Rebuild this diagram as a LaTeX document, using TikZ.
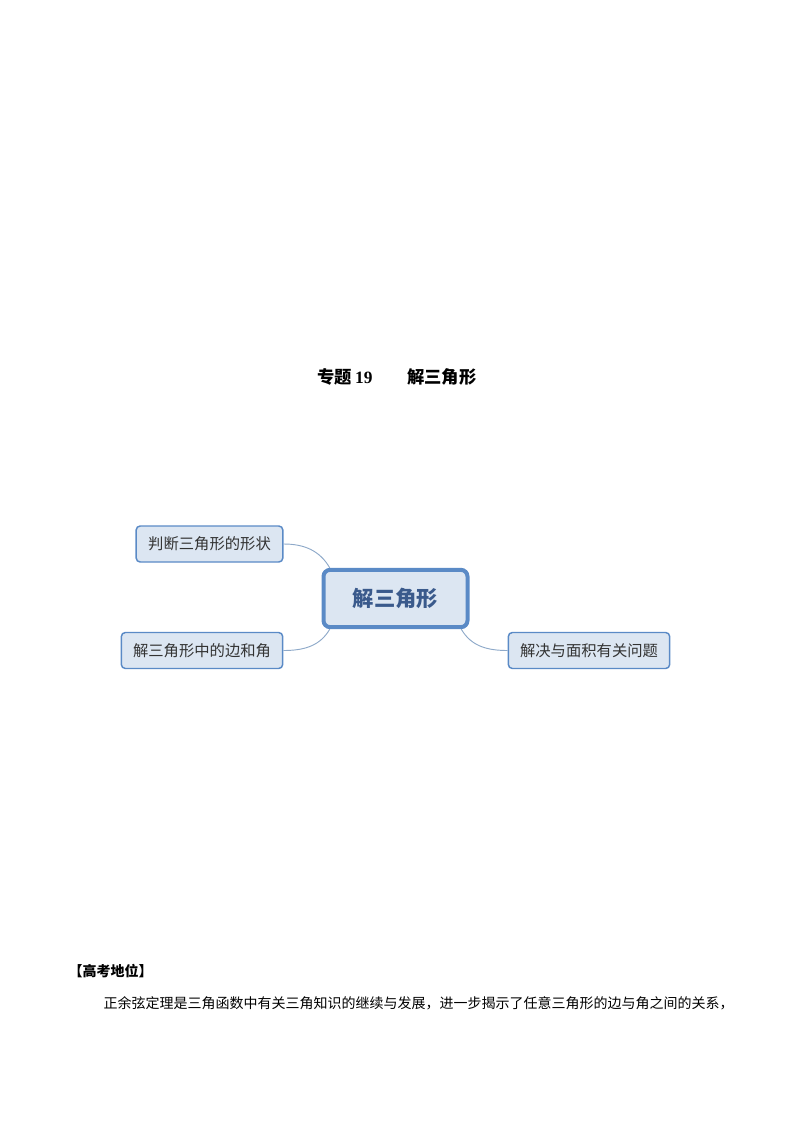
\documentclass[tikz,border=0pt]{standalone}
\usepackage{fontspec}
\setmainfont{Liberation Serif}
\newfontfamily\cjk{Noto Sans CJK SC}
\definecolor{boxfill}{HTML}{DCE6F2}
\definecolor{boxline}{HTML}{5A8AC6}
\definecolor{maintext}{HTML}{3A5A8C}
\definecolor{linkline}{HTML}{8EA9C9}
\begin{document}
\begin{tikzpicture}
  [x=0.75pt,y=-0.75pt,
   topic/.style={rectangle,draw=boxline,line width=1.1pt,fill=boxfill,rounded corners=3pt,
     minimum height=27pt,inner sep=0pt,font=\cjk\fontsize{11.5}{14}\selectfont,text=black!80},
   core/.style={rectangle,draw=boxline,line width=3pt,fill=boxfill,rounded corners=5pt,
     inner sep=0pt,font=\cjk\bfseries\fontsize{16}{19}\selectfont,text=maintext},
   link/.style={draw=linkline,line width=0.7pt}]
  \useasboundingbox (0,0) rectangle (794,1123);

  \node (title) at (397,377) {\cjk\bfseries\fontsize{13}{16}\selectfont 专题\,{\rmfamily\bfseries 19}\hspace{2em}解三角形};

  \node[core,minimum width=108pt,minimum height=43pt] (c) at (395.5,598.5) {解三角形};
  \node[topic,minimum width=110pt] (t1) at (209.5,544) {判断三角形的形状};
  \node[topic,minimum width=121pt] (t2) at (202,650.5) {解三角形中的边和角};
  \node[topic,minimum width=121pt] (t3) at (589,650.5) {解决与面积有关问题};

  \foreach \from/\to/\a/\b in {t1.east/c.155/0/120, t2.east/c.205/0/240, c.-25/t3.west/-60/180}
    \draw[link] (\from) to[out=\a,in=\b] (\to);

  \node[anchor=west,font=\cjk\bfseries\fontsize{10.5}{13}\selectfont] (pos) at (64,971) {【高考地位】};
  \node[anchor=west,font=\cjk\fontsize{10.5}{13}\selectfont] (para) at (99,1003)
    {正余弦定理是三角函数中有关三角知识的继续与发展，进一步揭示了任意三角形的边与角之间的关系，};

\end{tikzpicture}
\end{document}
